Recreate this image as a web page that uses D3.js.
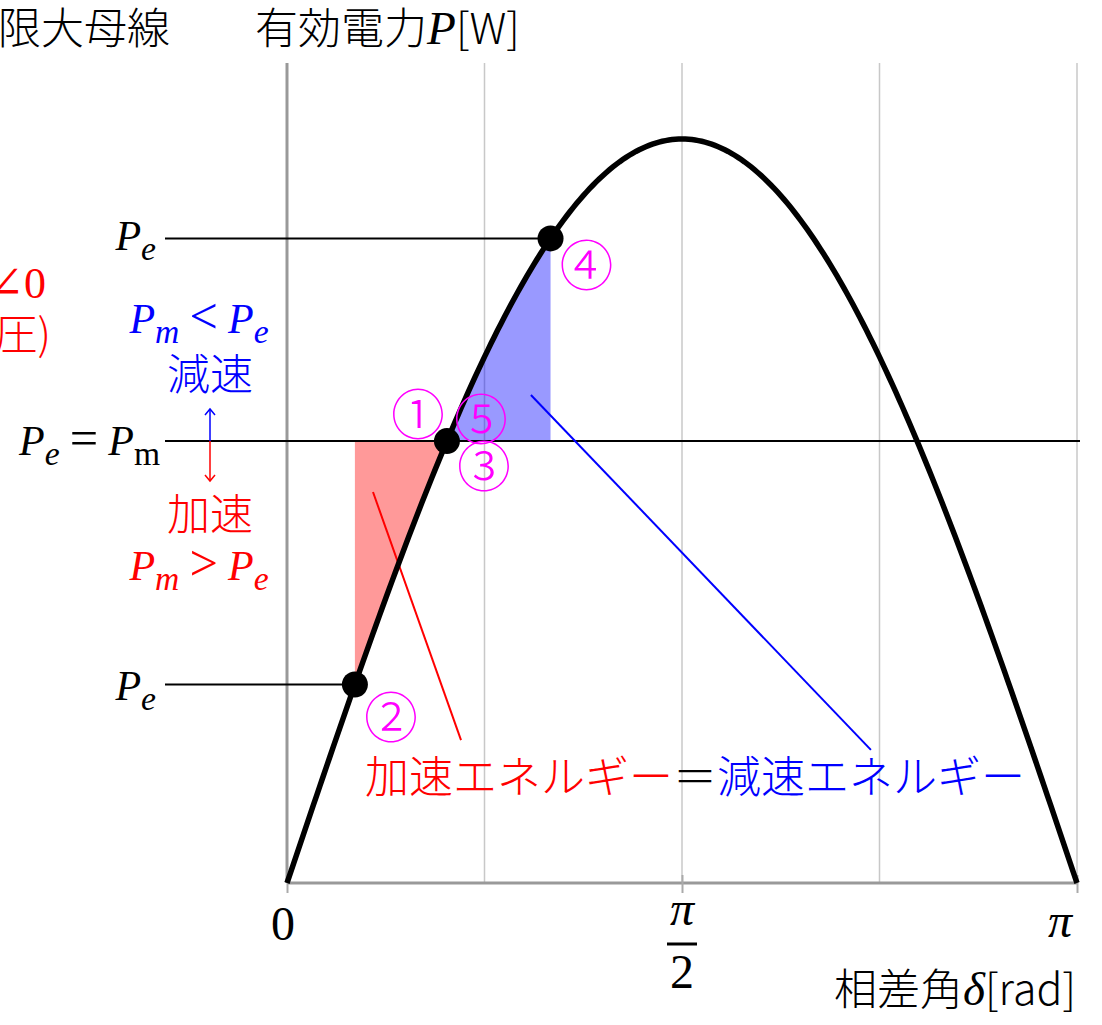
<!DOCTYPE html>
<html>
<head>
<meta charset="utf-8">
<script src="https://cdn.jsdelivr.net/npm/d3@7"></script>
<style>
  html, body { margin: 0; padding: 0; background: #fff; }
  svg { display: block; }
</style>
</head>
<body>
<svg id="chart" width="1102" height="1025"></svg>
<script>
// ---- data -------------------------------------------------------------
// power–angle curve P = Pmax · sin δ, δ in radians
const pMax = 1;
const angleDomain = [0, Math.PI];
const gridAngles = [Math.PI / 4, Math.PI / 2, 3 * Math.PI / 4, Math.PI];
const tickAngles = [0, Math.PI / 2, Math.PI];
// operating angles: δ2 (fault-cleared start), δ1 (initial), δ4 (max swing)
const keyNames = ["delta2", "delta1", "delta4"];
const keyAngles = [0.270, 0.636, 1.048];
// circled state numbers and the angle each is attached to
const stateLabels = ["①", "②", "③", "④", "⑤"];
const stateAngles = [0.636, 0.270, 0.636, 1.048, 0.636];
// leader lines from the areas to the energy caption, [δ, P] pairs
const accelLeader = [[0.342, 0.5255], [0.692, 0.192]];
const decelLeader = [[0.970, 0.656], [2.322, 0.179]];

// ---- scales -----------------------------------------------------------
const svg = d3.select("#chart");
const x = d3.scaleLinear().domain(angleDomain).range([287, 1077]);
const y = d3.scaleLinear().domain([0, pMax]).range([883, 139]);
const P = d => pMax * Math.sin(d);

const [d2, d1, d4] = keyAngles;
const pm = P(d1);

const SERIF = "'Liberation Serif', 'DejaVu Serif', serif";
const CJK = "'Noto Sans CJK JP', 'Noto Sans', sans-serif";
const CJK_WEIGHT = 300;

// ---- grid & axes ------------------------------------------------------
svg.append("g").selectAll("line").data(gridAngles).join("line")
  .attr("x1", d => x(d)).attr("x2", d => x(d))
  .attr("y1", 63).attr("y2", y(0))
  .attr("stroke", "#c8c8c8").attr("stroke-width", 1.5);

const xAxis = svg.append("g").attr("transform", `translate(0,${y(0)})`)
  .call(d3.axisBottom(x).tickValues(tickAngles).tickSize(10).tickFormat(""));
xAxis.select(".domain").attr("stroke", "#999").attr("stroke-width", 3)
  .attr("d", `M${x(0)},0H${x(Math.PI)}`);
xAxis.selectAll(".tick line").attr("stroke", "#aaa").attr("stroke-width", 2).attr("y1", -8);

svg.append("line")
  .attr("x1", x(0)).attr("x2", x(0)).attr("y1", 63).attr("y2", y(0))
  .attr("stroke", "#999").attr("stroke-width", 3);

// ---- equal-area regions -----------------------------------------------
const sample = (a, b, n) => d3.range(n + 1).map(i => a + (b - a) * i / n);
const area = d3.area().x(d => x(d)).y0(y(pm)).y1(d => y(P(d)));
svg.append("path").datum(sample(d2, d1, 60)).attr("d", area)
  .attr("fill", "#ff0000").attr("fill-opacity", 0.4);
svg.append("path").datum(sample(d1, d4, 60)).attr("d", area)
  .attr("fill", "#0000ff").attr("fill-opacity", 0.4);

// ---- reference levels ---------------------------------------------------
const levels = [
  { p: P(d4), x2: x(d4) },
  { p: pm, x2: 1080 },
  { p: P(d2), x2: x(d2) }
];
svg.append("g").selectAll("line").data(levels).join("line")
  .attr("x1", 165).attr("x2", d => d.x2)
  .attr("y1", d => y(d.p)).attr("y2", d => y(d.p))
  .attr("stroke", "#000").attr("stroke-width", 2);

// ---- leader lines -------------------------------------------------------
const leader = d3.line().x(d => x(d[0])).y(d => y(d[1]));
svg.append("path").attr("d", leader(accelLeader)).attr("stroke", "#ff0000")
  .attr("stroke-width", 2).attr("fill", "none");
svg.append("path").attr("d", leader(decelLeader)).attr("stroke", "#0000ff")
  .attr("stroke-width", 2).attr("fill", "none");

// ---- power curve --------------------------------------------------------
const curve = d3.line().x(d => x(d)).y(d => y(P(d)));
svg.append("path").datum(sample(0, Math.PI, 240)).attr("d", curve)
  .attr("fill", "none").attr("stroke", "#000").attr("stroke-width", 5.5);

svg.append("g").selectAll("circle").data(keyAngles).join("circle")
  .attr("cx", d => x(d)).attr("cy", d => y(P(d))).attr("r", 13).attr("fill", "#000");

// ---- state numbers --------------------------------------------------------
const stateOffsets = [[-29, -30], [36, 30], [37, 22], [36, 24], [34, -25]];
svg.append("g").selectAll("text").data(stateLabels).join("text")
  .attr("x", (d, i) => x(stateAngles[i]) + stateOffsets[i][0])
  .attr("y", (d, i) => y(P(stateAngles[i])) + stateOffsets[i][1])
  .attr("text-anchor", "middle").attr("dominant-baseline", "central")
  .attr("font-family", CJK).attr("font-weight", CJK_WEIGHT)
  .attr("font-size", 54).attr("fill", "#ff00ff")
  .text(d => d);

// ---- text helpers -------------------------------------------------------
function rich(px, py, parts, opt) {
  const t = svg.append("text").attr("x", px).attr("y", py)
    .attr("text-anchor", opt.anchor || "start")
    .attr("font-size", opt.size || 42).attr("fill", opt.color || "#000");
  let shifted = 0;
  parts.forEach(p => {
    const s = t.append("tspan").text(p.t)
      .attr("font-family", p.cjk ? CJK : SERIF)
      .attr("font-weight", p.cjk ? CJK_WEIGHT : 400)
      .attr("font-style", p.it ? "italic" : "normal");
    if (p.sub) {
      s.attr("font-size", "0.8em").attr("dy", 10 - shifted);
      shifted = 10;
    } else if (shifted) {
      s.attr("dy", -shifted);
      shifted = 0;
    }
    if (p.fs) s.attr("font-size", p.fs);
  });
  return t;
}
const Pe = [{ t: "P", it: true }, { t: "e", it: true, sub: true }];
const Pm = [{ t: "P", it: true }, { t: "m", it: true, sub: true }];
const rel = s => ({ t: "\u2009" + s + "\u2009", fs: "1.2em" });

// level labels
rich(156, 250, Pe, { anchor: "end" });
rich(156, 700, Pe, { anchor: "end" });
rich(160, 455, [{ t: "P", it: true }, { t: "e", it: true, sub: true }, rel("="),
  { t: "P", it: true }, { t: "m", sub: true }], { anchor: "end" });

// deceleration / acceleration notes
rich(199, 333, [...Pm, rel("<"), ...Pe], { anchor: "middle", color: "#0000ff" });
rich(210, 390, [{ t: "減速", cjk: true }], { anchor: "middle", color: "#0000ff", size: 43 });
rich(210, 530, [{ t: "加速", cjk: true }], { anchor: "middle", color: "#ff0000", size: 43 });
rich(199, 580, [...Pm, rel(">"), ...Pe], { anchor: "middle", color: "#ff0000" });

// two-headed arrow across the Pm level
const arrowX = 210;
svg.append("line").attr("x1", arrowX).attr("x2", arrowX).attr("y1", 409).attr("y2", y(pm))
  .attr("stroke", "#0000ff").attr("stroke-width", 1.5);
svg.append("path").attr("d", `M${arrowX - 5},415L${arrowX},409L${arrowX + 5},415`)
  .attr("stroke", "#0000ff").attr("stroke-width", 1.5).attr("fill", "none");
svg.append("line").attr("x1", arrowX).attr("x2", arrowX).attr("y1", y(pm)).attr("y2", 481)
  .attr("stroke", "#ff0000").attr("stroke-width", 1.5);
svg.append("path").attr("d", `M${arrowX - 5},475L${arrowX},481L${arrowX + 5},475`)
  .attr("stroke", "#ff0000").attr("stroke-width", 1.5).attr("fill", "none");

// infinite-bus source notes at the left edge
rich(-2, 44, [{ t: "限大母線", cjk: true }], { size: 43 });
rich(46, 298, [{ t: "∠0" }], { anchor: "end", color: "#ff0000", size: 44 });
rich(51, 350, [{ t: "圧)", cjk: true }], { anchor: "end", color: "#ff0000", size: 43 });

// axis titles
rich(255, 44, [{ t: "有効電力", cjk: true }, { t: "P", it: true, fs: "1.1em" }, { t: "[W]", cjk: true }], { size: 43 });
rich(1076, 1005, [{ t: "相差角", cjk: true }, { t: "δ", it: true, fs: "1.1em" }, { t: "[rad]", cjk: true }], { anchor: "end", size: 43 });

// tick labels
rich(x(0) - 4, 940, [{ t: "0" }], { anchor: "middle", size: 48 });
rich(x(Math.PI) - 17, 937, [{ t: "π", it: true }], { anchor: "middle", size: 48 });
rich(x(Math.PI / 2), 925, [{ t: "π", it: true }], { anchor: "middle", size: 48 });
svg.append("line").attr("x1", x(Math.PI / 2) - 15).attr("x2", x(Math.PI / 2) + 15)
  .attr("y1", 944).attr("y2", 944).attr("stroke", "#000").attr("stroke-width", 3);
rich(x(Math.PI / 2), 988, [{ t: "2" }], { anchor: "middle", size: 48 });

// energy caption
rich(365, 793, [{ t: "加速エネルギー", cjk: true }], { color: "#ff0000", size: 44 })
  .call(t => t.append("tspan").attr("fill", "#000").attr("font-family", CJK)
    .attr("font-weight", CJK_WEIGHT).text("＝"))
  .call(t => t.append("tspan").attr("fill", "#0000ff").attr("font-family", CJK)
    .attr("font-weight", CJK_WEIGHT).text("減速エネルギー"));
</script>
</body>
</html>
